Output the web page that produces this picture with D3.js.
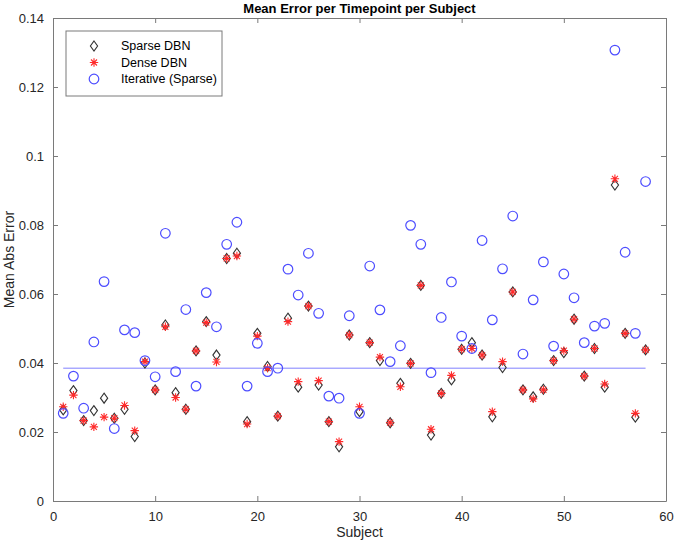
<!DOCTYPE html>
<html>
<head>
<meta charset="utf-8">
<script src="https://cdn.jsdelivr.net/npm/d3@7"></script>
<style>
  body { margin: 0; background: #fff; }
  svg { display: block; font-family: "Liberation Sans", Arial, sans-serif; }
</style>
</head>
<body>
<div id="chart"></div>
<script>
// values, one entry per subject (1..58)
const subjects = d3.range(1, 59);

const sparseDBN = [
  0.0264, 0.0320, 0.0233, 0.0262, 0.0298, 0.0240, 0.0266, 0.0187, 0.0400, 0.0322,
  0.0510, 0.0314, 0.0266, 0.0435, 0.0520, 0.0423, 0.0703, 0.0718, 0.0230, 0.0486,
  0.0390, 0.0246, 0.0530, 0.0330, 0.0565, 0.0336, 0.0230, 0.0157, 0.0481, 0.0259,
  0.0459, 0.0407, 0.0227, 0.0341, 0.0399, 0.0625, 0.0191, 0.0312, 0.0351, 0.0440,
  0.0459, 0.0423, 0.0244, 0.0387, 0.0606, 0.0322, 0.0302, 0.0324, 0.0407, 0.0430,
  0.0527, 0.0362, 0.0442, 0.0330, 0.0916, 0.0486, 0.0243, 0.0438
];

const denseDBN = [
  0.0273, 0.0307, 0.0233, 0.0215, 0.0243, 0.0240, 0.0277, 0.0204, 0.0404, 0.0322,
  0.0505, 0.0300, 0.0266, 0.0435, 0.0517, 0.0403, 0.0703, 0.0710, 0.0223, 0.0478,
  0.0385, 0.0246, 0.0520, 0.0346, 0.0565, 0.0349, 0.0230, 0.0172, 0.0481, 0.0273,
  0.0459, 0.0417, 0.0227, 0.0331, 0.0399, 0.0625, 0.0208, 0.0312, 0.0364, 0.0440,
  0.0442, 0.0423, 0.0259, 0.0404, 0.0606, 0.0322, 0.0296, 0.0322, 0.0407, 0.0436,
  0.0527, 0.0362, 0.0442, 0.0339, 0.0934, 0.0486, 0.0254, 0.0438
];

const iterativeSparse = [
  0.0254, 0.0362, 0.0269, 0.0461, 0.0636, 0.0210, 0.0496, 0.0488, 0.0407, 0.0360,
  0.0776, 0.0375, 0.0555, 0.0333, 0.0604, 0.0505, 0.0744, 0.0808, 0.0333, 0.0457,
  0.0375, 0.0385, 0.0672, 0.0597, 0.0718, 0.0544, 0.0304, 0.0298, 0.0537, 0.0254,
  0.0681, 0.0554, 0.0404, 0.0450, 0.0799, 0.0744, 0.0372, 0.0532, 0.0635, 0.0478,
  0.0442, 0.0755, 0.0525, 0.0673, 0.0826, 0.0426, 0.0583, 0.0693, 0.0449, 0.0658,
  0.0589, 0.0459, 0.0507, 0.0515, 0.1307, 0.0721, 0.0486, 0.0926
];

// reference level drawn as a horizontal line across the subjects
const meanLevel = 0.0385;

const xTicks = [0, 10, 20, 30, 40, 50, 60];
const yTicks = [0, 0.02, 0.04, 0.06, 0.08, 0.1, 0.12, 0.14];
const legendLabels = ['Sparse DBN', 'Dense DBN', 'Iterative (Sparse)'];

const W = 675, H = 546;
const margin = { top: 18, right: 9, bottom: 45, left: 53 };
const width = W - margin.left - margin.right;
const height = H - margin.top - margin.bottom;

const axisColor = '#7a7a7a';
const textColor = '#262626';
const diamondColor = '#333333';
const starColor = '#ff2a2a';
const circleColor = '#4d4dff';

const svg = d3.select('#chart')
  .append('svg')
  .attr('width', W)
  .attr('height', H);

svg.append('rect').attr('width', W).attr('height', H).attr('fill', '#fff');

const g = svg.append('g')
  .attr('transform', `translate(${margin.left},${margin.top})`);

const x = d3.scaleLinear().domain([0, 60]).range([0, width]);
const y = d3.scaleLinear().domain([0, 0.14]).range([height, 0]);

const fmt = d => d === 0 ? '0' : String(+d.toFixed(2));

// axes (MATLAB style: inward ticks, box on all sides)
const tickLen = 5;
const styleAxis = sel => {
  sel.select('.domain').attr('stroke', axisColor).attr('stroke-width', 1);
  sel.selectAll('.tick line').attr('stroke', axisColor);
  sel.selectAll('.tick text').attr('fill', textColor).style('font-size', '13px');
};

g.append('g')
  .attr('transform', `translate(0,${height})`)
  .call(d3.axisBottom(x).tickValues(xTicks).tickSizeInner(-tickLen).tickSizeOuter(0).tickPadding(11).tickFormat(d3.format('d')))
  .call(styleAxis);

g.append('g')
  .call(d3.axisTop(x).tickValues(xTicks).tickSizeInner(-tickLen).tickSizeOuter(0).tickFormat(''))
  .call(styleAxis);

g.append('g')
  .call(d3.axisLeft(y).tickValues(yTicks).tickSizeInner(-tickLen).tickSizeOuter(0).tickPadding(9).tickFormat(fmt))
  .call(styleAxis);

g.append('g')
  .attr('transform', `translate(${width},0)`)
  .call(d3.axisRight(y).tickValues(yTicks).tickSizeInner(-tickLen).tickSizeOuter(0).tickFormat(''))
  .call(styleAxis);

// mean line
g.append('line')
  .attr('x1', x(subjects[0]))
  .attr('x2', x(subjects[subjects.length - 1]))
  .attr('y1', y(meanLevel))
  .attr('y2', y(meanLevel))
  .attr('stroke', '#8080ff')
  .attr('stroke-width', 1);

// marker shapes
const diamondPath = 'M0,-5L3.6,0L0,5L-3.6,0Z';
const starPath = 'M-4.2,0H4.2M0,-4.2V4.2M-3,-3L3,3M-3,3L3,-3';

g.append('g').selectAll('path')
  .data(subjects)
  .enter()
  .append('path')
  .attr('transform', (d, i) => `translate(${x(d)},${y(sparseDBN[i])})`)
  .attr('d', diamondPath)
  .attr('fill', 'none')
  .attr('stroke', diamondColor)
  .attr('stroke-width', 1.1);

g.append('g').selectAll('path')
  .data(subjects)
  .enter()
  .append('path')
  .attr('transform', (d, i) => `translate(${x(d)},${y(denseDBN[i])})`)
  .attr('d', starPath)
  .attr('fill', 'none')
  .attr('stroke', starColor)
  .attr('stroke-width', 1.1);

g.append('g').selectAll('circle')
  .data(subjects)
  .enter()
  .append('circle')
  .attr('cx', d => x(d))
  .attr('cy', (d, i) => y(iterativeSparse[i]))
  .attr('r', 4.8)
  .attr('fill', 'none')
  .attr('stroke', circleColor)
  .attr('stroke-width', 1.2);

// title and axis labels
svg.append('text')
  .attr('x', margin.left + width / 2)
  .attr('y', 13)
  .attr('text-anchor', 'middle')
  .style('font-size', '13px')
  .style('font-weight', 'bold')
  .attr('fill', '#000')
  .text('Mean Error per Timepoint per Subject');

svg.append('text')
  .attr('x', margin.left + width / 2)
  .attr('y', 537)
  .attr('text-anchor', 'middle')
  .style('font-size', '14px')
  .attr('fill', textColor)
  .text('Subject');

svg.append('text')
  .attr('transform', `translate(14,${margin.top + height / 2}) rotate(-90)`)
  .attr('text-anchor', 'middle')
  .style('font-size', '14px')
  .attr('fill', textColor)
  .text('Mean Abs Error');

// legend
const legend = svg.append('g').attr('transform', 'translate(66,31)');

legend.append('rect')
  .attr('width', 156)
  .attr('height', 65)
  .attr('fill', '#fff')
  .attr('stroke', axisColor)
  .attr('stroke-width', 1);

legendLabels.forEach((label, i) => {
  const row = legend.append('g').attr('transform', `translate(28,${15 + i * 16.5})`);
  if (i === 0) {
    row.append('path').attr('d', diamondPath).attr('fill', 'none')
      .attr('stroke', diamondColor).attr('stroke-width', 1.1);
  } else if (i === 1) {
    row.append('path').attr('d', starPath).attr('fill', 'none')
      .attr('stroke', starColor).attr('stroke-width', 1.1);
  } else {
    row.append('circle').attr('r', 4.8).attr('fill', 'none')
      .attr('stroke', circleColor).attr('stroke-width', 1.2);
  }
  row.append('text')
    .attr('x', 27)
    .attr('y', 4)
    .style('font-size', '12.5px')
    .attr('fill', '#000')
    .text(label);
});
</script>
</body>
</html>
